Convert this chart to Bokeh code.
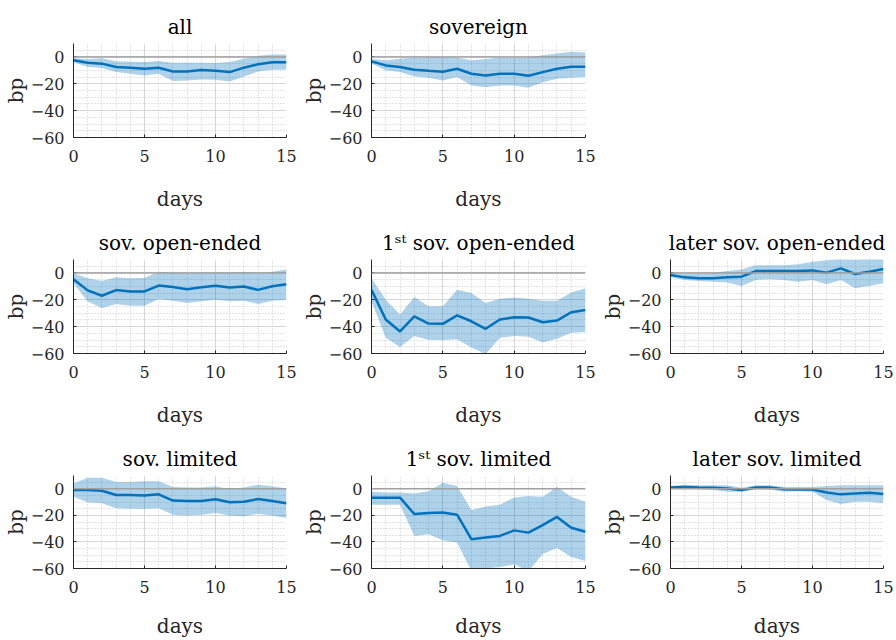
from bokeh.plotting import figure
from bokeh.layouts import gridplot
from bokeh.models import Range1d, FixedTicker, Span, ColumnDataSource
from bokeh.embed import file_html
from bokeh.resources import INLINE

DAYS = list(range(16))

ALL_MEAN = [-2.5, -4.3, -5.0, -7.5, -8.0, -8.8, -8.0, -10.8, -10.8, -9.8, -10.3, -11.3, -8.0, -5.5, -4.0, -4.0]
ALL_HI = [-1.0, -1.5, -1.0, -3.3, -3.5, -3.8, -3.0, -4.3, -4.3, -4.3, -4.5, -3.8, -1.3, 0.8, 1.8, 1.8]
ALL_LO = [-3.8, -7.5, -8.3, -11.3, -12.5, -13.8, -12.5, -18.0, -17.5, -16.8, -17.0, -18.3, -14.5, -10.8, -9.5, -9.5]

SOV_MEAN = [-3.3, -6.3, -7.5, -9.5, -10.3, -11.0, -8.8, -12.5, -13.8, -12.5, -12.5, -14.0, -11.3, -8.8, -7.3, -7.3]
SOV_HI = [-1.3, -2.5, -1.3, -0.5, 0.0, 0.0, -0.5, -2.5, -1.5, -0.5, -0.5, -0.5, 1.3, 2.5, 3.8, 3.3]
SOV_LO = [-5.0, -10.0, -11.3, -14.5, -15.5, -17.5, -15.0, -21.3, -22.5, -21.3, -21.3, -23.0, -18.8, -16.3, -15.5, -15.0]

OPEN_MEAN = [-4.7, -13.0, -17.0, -12.8, -13.8, -13.8, -9.4, -10.4, -12.1, -10.6, -9.6, -10.9, -10.1, -12.6, -9.9, -8.4]
OPEN_HI = [-0.3, -4.0, -6.0, -3.3, -4.0, -3.5, 0.9, 0.2, -0.3, 0.2, 0.4, 0.2, 0.9, -0.3, 0.9, 2.6]
OPEN_LO = [-7.7, -21.2, -26.1, -23.2, -24.4, -24.4, -19.5, -20.7, -22.4, -21.0, -20.0, -21.0, -20.7, -23.2, -20.7, -20.0]

OPEN1_MEAN = [-12.6, -34.7, -43.6, -32.3, -37.7, -37.9, -31.6, -36.0, -41.6, -34.7, -33.0, -33.2, -36.7, -35.5, -29.3, -27.6]
OPEN1_HI = [-4.0, -20.0, -31.0, -18.0, -24.9, -24.9, -12.6, -15.0, -22.4, -19.2, -18.3, -19.2, -20.7, -20.7, -14.6, -11.4]
OPEN1_LO = [-21.2, -48.3, -55.1, -47.0, -50.0, -50.0, -49.4, -55.6, -60.5, -48.3, -47.0, -47.5, -51.9, -49.0, -44.5, -44.0]

OPENL_MEAN = [-1.5, -3.3, -4.0, -4.0, -3.3, -2.8, 1.4, 1.4, 1.4, 1.4, 1.9, 0.2, 3.4, -0.8, 0.9, 2.9]
OPENL_HI = [0.2, -0.8, -0.3, 0.2, 1.4, 2.6, 5.8, 5.8, 5.8, 6.5, 8.3, 9.5, 10.7, 10.0, 10.7, 10.7]
OPENL_LO = [-3.3, -5.2, -6.0, -6.5, -7.2, -9.7, -5.2, -4.7, -5.2, -6.5, -5.2, -8.4, -5.2, -11.4, -9.7, -7.7]

LIM_MEAN = [-1.0, -1.0, -1.5, -4.7, -4.7, -5.0, -4.2, -8.9, -9.2, -9.2, -7.9, -10.1, -9.7, -7.7, -9.2, -10.9]
LIM_HI = [3.9, 8.3, 8.3, 5.1, 5.1, 5.6, 5.6, 1.4, 0.9, 0.9, 1.9, -0.3, 0.9, 3.1, 1.9, 0.2]
LIM_LO = [-6.0, -10.1, -10.9, -14.6, -15.1, -15.1, -14.6, -19.5, -20.2, -19.5, -18.3, -20.2, -20.7, -18.7, -20.2, -21.9]

LIM1_MEAN = [-6.7, -6.7, -6.7, -19.0, -18.3, -17.8, -19.5, -37.9, -36.7, -35.5, -31.3, -33.0, -27.4, -21.2, -29.3, -32.3]
LIM1_HI = [-2.3, -2.8, -2.8, -3.5, -1.8, 4.6, 2.1, -15.9, -13.4, -12.1, -6.5, -5.5, -6.0, 1.4, -6.0, -9.7]
LIM1_LO = [-12.1, -12.1, -12.1, -35.5, -34.2, -38.7, -40.4, -62.0, -60.0, -58.8, -56.8, -62.0, -49.0, -44.5, -51.4, -54.4]

LIML_MEAN = [0.9, 1.4, 0.9, 0.7, 0.2, -1.0, 0.9, 0.9, -0.3, -0.6, -0.6, -2.8, -4.2, -3.5, -3.0, -4.0]
LIML_HI = [2.1, 3.1, 2.6, 2.6, 2.6, 0.7, 2.6, 2.6, 1.4, 1.4, 1.4, 2.1, 2.6, 2.6, 2.6, 2.6]
LIML_LO = [0.2, 0.2, -0.3, -1.0, -2.3, -2.3, -0.6, -0.6, -2.3, -1.8, -2.3, -8.4, -11.4, -9.7, -9.7, -10.9]

TITLES = [
    "all",
    "sovereign",
    "sov. open-ended",
    "1\u02e2\u1d57 sov. open-ended",
    "later sov. open-ended",
    "sov. limited",
    "1\u02e2\u1d57 sov. limited",
    "later sov. limited",
]
SERIES = [
    (ALL_MEAN, ALL_LO, ALL_HI),
    (SOV_MEAN, SOV_LO, SOV_HI),
    (OPEN_MEAN, OPEN_LO, OPEN_HI),
    (OPEN1_MEAN, OPEN1_LO, OPEN1_HI),
    (OPENL_MEAN, OPENL_LO, OPENL_HI),
    (LIM_MEAN, LIM_LO, LIM_HI),
    (LIM1_MEAN, LIM1_LO, LIM1_HI),
    (LIML_MEAN, LIML_LO, LIML_HI),
]
X_TICKS = [0, 5, 10, 15]
Y_TICKS = [-60, -40, -20, 0]
X_MINOR = list(range(0, 16))
Y_MINOR = list(range(-60, 11, 5))
ZERO = 0

FONT = "DejaVu Serif"
BLUE = "#0072BD"
AXC = "#262626"

COL_W = [298, 299, 299]
COL_L = [72, 73, 72]
COL_R = [12, 12, 13]
ROW_H = [216, 216, 208]
ROW_B = [79, 79, 71]
ROW_XSTAND = [22, 22, 18]


def make_panel(idx, col, row):
    ttl = TITLES[idx]
    mean, lo, hi = SERIES[idx]
    p = figure(width=COL_W[col], height=ROW_H[row], output_backend="svg",
               toolbar_location=None, x_range=Range1d(0, 15), y_range=Range1d(-60, 10),
               min_border_left=COL_L[col], min_border_right=COL_R[col],
               min_border_top=43, min_border_bottom=ROW_B[row])
    p.outline_line_color = None
    p.background_fill_color = "white"
    p.border_fill_color = "white"

    src = ColumnDataSource(dict(x=DAYS, m=mean, lo=lo, hi=hi))
    p.varea(x="x", y1="lo", y2="hi", source=src, fill_color=BLUE, fill_alpha=0.32)
    p.add_layout(Span(location=ZERO, dimension="width", line_color="#a0a0a0", line_width=1.5))
    p.line(x="x", y="m", source=src, line_color=BLUE, line_width=2.5)

    p.xaxis.ticker = FixedTicker(ticks=X_TICKS, minor_ticks=X_MINOR)
    p.yaxis.ticker = FixedTicker(ticks=Y_TICKS, minor_ticks=Y_MINOR)
    for g in (p.xgrid, p.ygrid):
        g.grid_line_color = "#d6d6d6"
        g.grid_line_width = 1
        g.minor_grid_line_color = "#c8c8c8"
        g.minor_grid_line_dash = "1 2"
        g.minor_grid_line_width = 1
    for ax in (p.xaxis, p.yaxis):
        ax.axis_line_color = AXC
        ax.major_tick_line_color = AXC
        ax.major_tick_in = 3
        ax.major_tick_out = 0
        ax.minor_tick_line_color = None
        ax.major_label_text_font = FONT
        ax.major_label_text_font_size = "16px"
        ax.major_label_text_color = AXC
        ax.axis_label_text_font = FONT
        ax.axis_label_text_font_size = "20px"
        ax.axis_label_text_font_style = "normal"
        ax.axis_label_text_color = AXC
    p.xaxis.axis_label = "days"
    p.yaxis.axis_label = "bp"
    p.xaxis.major_label_standoff = 8
    p.yaxis.major_label_standoff = 5
    p.xaxis.axis_label_standoff = ROW_XSTAND[row]
    p.yaxis.axis_label_standoff = 0

    p.title.text = ttl
    p.title.align = "center"
    p.title.text_font = FONT
    p.title.text_font_size = "20px"
    p.title.text_font_style = "normal"
    p.title.text_color = "black"
    p.title.standoff = 10
    return p


grid_pos = [(0, 0), (0, 1), (1, 0), (1, 1), (1, 2), (2, 0), (2, 1), (2, 2)]
cells = [[None, None, None] for _ in range(3)]
for i, (r, c) in enumerate(grid_pos):
    cells[r][c] = make_panel(i, c, r)

layout = gridplot(cells, toolbar_location=None)
open("out.html", "w").write(file_html(layout, INLINE))
